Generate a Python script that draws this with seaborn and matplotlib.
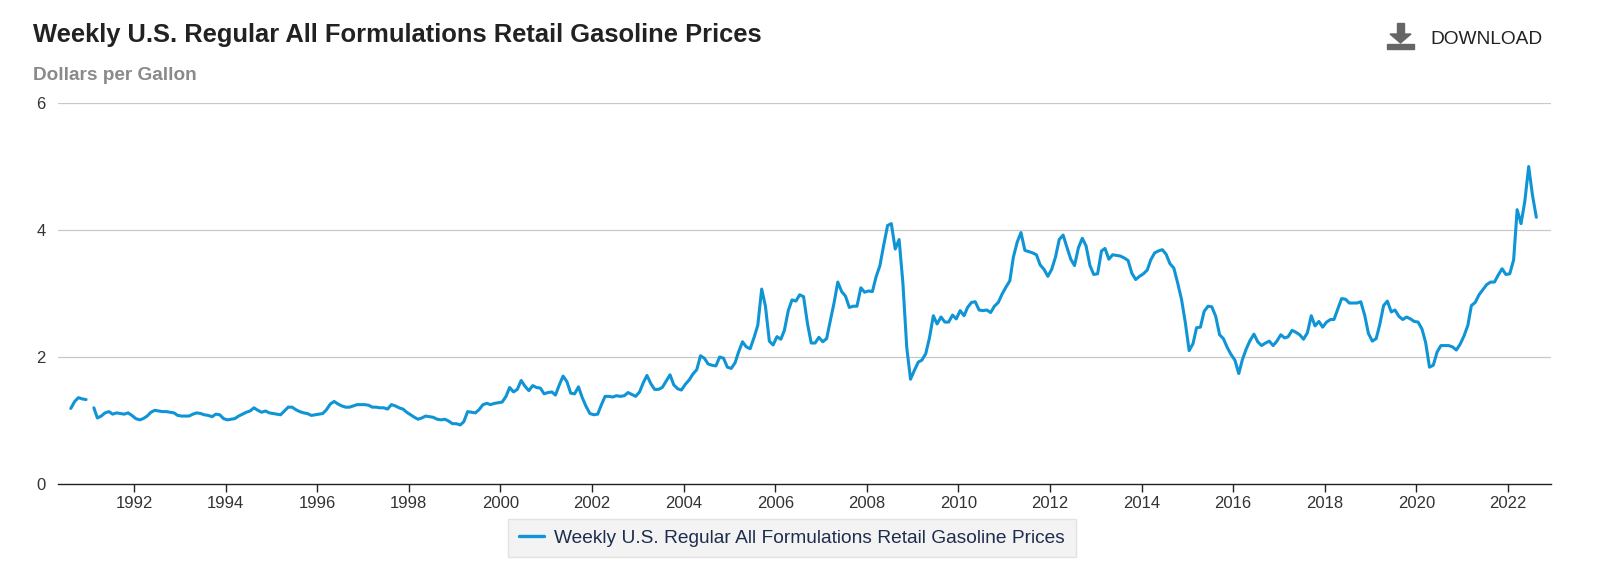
import numpy as np
import pandas as pd
import matplotlib
matplotlib.use("Agg")
import matplotlib.pyplot as plt
import matplotlib.dates as mdates
from matplotlib.lines import Line2D
from matplotlib.patches import Rectangle, Polygon
import seaborn as sns

# monthly readings (mid-month), first one Aug 1990; None = gap in the series
first_month = "1990-08-01"
prices_1990s = [
    1.19, 1.30, 1.36, 1.34, 1.33,
    None, 1.20, 1.04, 1.07, 1.12, 1.14, 1.10, 1.12, 1.11, 1.10, 1.12, 1.08,
    1.03, 1.01, 1.03, 1.07, 1.13, 1.16, 1.15, 1.14, 1.14, 1.13, 1.12, 1.08,
    1.07, 1.07, 1.07, 1.10, 1.12, 1.11, 1.09, 1.08, 1.06, 1.10, 1.09, 1.03,
    1.01, 1.02, 1.03, 1.07, 1.10, 1.13, 1.15, 1.20, 1.16, 1.13, 1.15, 1.12,
    1.11, 1.10, 1.09, 1.15, 1.21, 1.21, 1.17, 1.14, 1.12, 1.11, 1.08, 1.09,
    1.10, 1.11, 1.17, 1.26, 1.30, 1.26, 1.23, 1.21, 1.21, 1.23, 1.25, 1.25,
    1.25, 1.24, 1.21, 1.21, 1.20, 1.20, 1.18, 1.25, 1.23, 1.20, 1.18, 1.13,
    1.09, 1.05, 1.02, 1.04, 1.07, 1.06, 1.05, 1.02, 1.01, 1.02, 0.99, 0.95,
    0.95, 0.93, 0.98, 1.14, 1.13, 1.12, 1.17, 1.25, 1.27, 1.25, 1.27, 1.28,
]
prices_2000s = [
    1.29, 1.38, 1.52, 1.45, 1.49, 1.63, 1.54, 1.47, 1.55, 1.52, 1.51, 1.42,
    1.44, 1.45, 1.40, 1.56, 1.70, 1.61, 1.43, 1.42, 1.53, 1.36, 1.22, 1.11,
    1.09, 1.10, 1.24, 1.38, 1.38, 1.37, 1.39, 1.38, 1.39, 1.44, 1.41, 1.38,
    1.45, 1.60, 1.71, 1.58, 1.49, 1.49, 1.52, 1.62, 1.72, 1.56, 1.50, 1.48,
    1.57, 1.64, 1.73, 1.80, 2.02, 1.98, 1.89, 1.87, 1.86, 2.00, 1.98, 1.84,
    1.82, 1.91, 2.08, 2.24, 2.16, 2.13, 2.30, 2.50, 3.07, 2.80, 2.25, 2.19,
    2.32, 2.28, 2.42, 2.73, 2.90, 2.88, 2.98, 2.95, 2.53, 2.22, 2.22, 2.31,
    2.24, 2.29, 2.56, 2.85, 3.18, 3.03, 2.96, 2.78, 2.80, 2.80, 3.09, 3.02,
    3.04, 3.03, 3.26, 3.44, 3.76, 4.07, 4.10, 3.70, 3.85, 3.17, 2.15, 1.65,
    1.79, 1.92, 1.95, 2.05, 2.30, 2.65, 2.52, 2.63, 2.55, 2.55, 2.66, 2.60,
]
prices_2010s = [
    2.73, 2.65, 2.78, 2.86, 2.87, 2.74, 2.73, 2.74, 2.70, 2.80, 2.86, 2.99,
    3.10, 3.20, 3.57, 3.81, 3.96, 3.68, 3.66, 3.64, 3.61, 3.45, 3.38, 3.27,
    3.38, 3.58, 3.85, 3.92, 3.73, 3.54, 3.44, 3.72, 3.87, 3.75, 3.44, 3.30,
    3.31, 3.67, 3.71, 3.54, 3.61, 3.60, 3.59, 3.56, 3.52, 3.32, 3.22, 3.27,
    3.31, 3.37, 3.53, 3.64, 3.67, 3.69, 3.62, 3.47, 3.40, 3.17, 2.91, 2.55,
    2.10, 2.21, 2.46, 2.47, 2.72, 2.80, 2.79, 2.64, 2.35, 2.29, 2.15, 2.04,
    1.95, 1.74, 1.96, 2.13, 2.26, 2.36, 2.24, 2.18, 2.22, 2.25, 2.18, 2.25,
    2.35, 2.30, 2.32, 2.42, 2.39, 2.35, 2.28, 2.38, 2.65, 2.49, 2.56, 2.47,
    2.55, 2.59, 2.59, 2.76, 2.92, 2.91, 2.85, 2.85, 2.85, 2.87, 2.66, 2.37,
    2.25, 2.29, 2.51, 2.81, 2.88, 2.71, 2.74, 2.64, 2.59, 2.63, 2.60, 2.56,
]
prices_2020s = [
    2.55, 2.44, 2.23, 1.84, 1.87, 2.08, 2.18, 2.18, 2.18, 2.16, 2.11, 2.20,
    2.33, 2.50, 2.81, 2.86, 2.98, 3.06, 3.14, 3.18, 3.18, 3.29, 3.39, 3.30,
    3.31, 3.53, 4.32, 4.10, 4.45, 5.00, 4.55, 4.20,
]
year_ticks = list(range(1992, 2023, 2))
y_ticks = [0, 2, 4, 6]
series_name = "Weekly U.S. Regular All Formulations Retail Gasoline Prices"

prices = prices_1990s + prices_2000s + prices_2010s + prices_2020s
dates = pd.date_range(first_month, periods=len(prices), freq="MS") + pd.Timedelta(days=14)
df = pd.DataFrame({"date": dates, "price": pd.to_numeric(pd.Series(prices), errors="coerce")})
# separate runs on each side of the gap so the line breaks there
df["segment"] = df["price"].isna().cumsum()
df = df.dropna()

line_color = "#0f94d6"

sns.set_theme(style="white")
plt.rcParams["font.family"] = ["Liberation Sans", "DejaVu Sans"]

W, H = 1600, 576
fig = plt.figure(figsize=(W / 100, H / 100), dpi=100)
ax = fig.add_axes([58 / W, 1 - 484 / H, (1551 - 58) / W, (484 - 103) / H])

sns.lineplot(data=df, x="date", y="price", units="segment", estimator=None,
             color=line_color, linewidth=2.2, ax=ax, legend=False)

ax.set_ylim(0, 6)
ax.set_xlim(pd.Timestamp("1990-05-05"), pd.Timestamp("2022-12-10"))
ax.set_yticks(y_ticks)
ax.set_xticks([pd.Timestamp(f"{y}-01-01") for y in year_ticks])
ax.xaxis.set_major_formatter(mdates.DateFormatter("%Y"))
ax.set_xlabel("")
ax.set_ylabel("")

for v in y_ticks[1:]:
    ax.axhline(v, color="#c8c8c8", linewidth=0.9, zorder=0)

for s in ["left", "right", "top"]:
    ax.spines[s].set_visible(False)
ax.spines["bottom"].set_color("#222222")
ax.spines["bottom"].set_linewidth(1.0)

ax.tick_params(axis="y", length=0, pad=9, labelsize=12, labelcolor="#333333")
ax.tick_params(axis="x", bottom=True, length=6, width=1, color="#222222",
               pad=3, labelsize=12, labelcolor="#333333")

fig.text(33 / W, 1 - 35 / H, "Weekly U.S. Regular All Formulations Retail Gasoline Prices",
         fontsize=18.4, fontweight="bold", color="#222222", va="center", ha="left")
fig.text(33 / W, 1 - 75 / H, "Dollars per Gallon",
         fontsize=13.7, fontweight="bold", color="#8a8a8a", va="center", ha="left")

# download button
fig.text(1430 / W, 1 - 39 / H, "DOWNLOAD", fontsize=13.8, color="#222222",
         va="center", ha="left")
icon = "#666666"
fig.patches.append(Rectangle((1387 / W, 1 - 49 / H), 27 / W, 5 / H,
                             transform=fig.transFigure, color=icon))
fig.patches.append(Rectangle((1397 / W, 1 - 35 / H), 7 / W, 12 / H,
                             transform=fig.transFigure, color=icon))
fig.patches.append(Polygon([(1390 / W, 1 - 34 / H), (1411 / W, 1 - 34 / H),
                            (1400.5 / W, 1 - 43 / H)],
                           closed=True, transform=fig.transFigure, color=icon))

handle = Line2D([], [], color=line_color, linewidth=2.4)
leg = fig.legend([handle], [series_name], loc="center",
                 bbox_to_anchor=(0.495, 1 - 538 / H), frameon=True, fancybox=False,
                 fontsize=13.8, handlelength=1.3, handletextpad=0.55,
                 borderpad=0.55, borderaxespad=0, labelcolor="#1f2d4d")
leg.get_frame().set_facecolor("#f0f0f0")
leg.get_frame().set_edgecolor("#dddddd")
leg.get_frame().set_linewidth(1.0)

fig.savefig("out.png", dpi=100, facecolor="white")
